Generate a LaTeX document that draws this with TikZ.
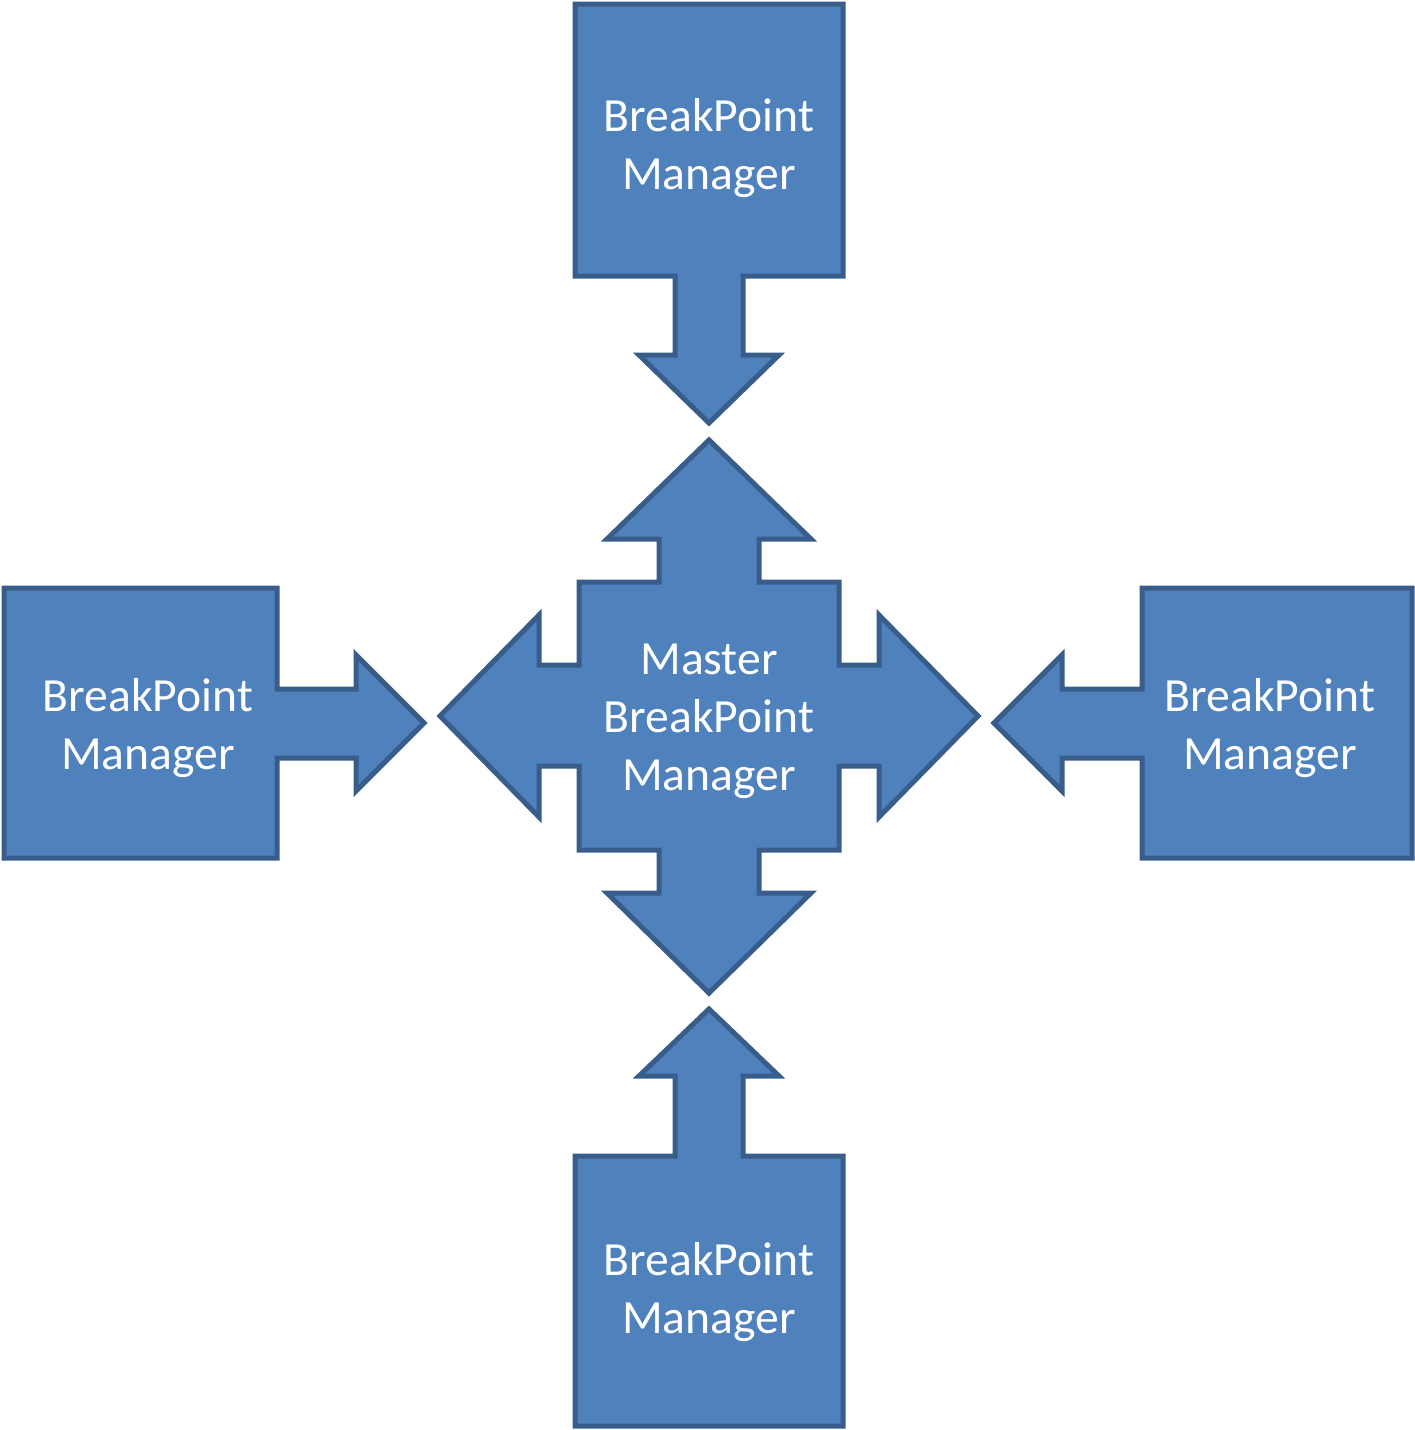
\documentclass[tikz,border=0pt]{standalone}
\usepackage{fontspec}
\setmainfont{Carlito}
\definecolor{shapefill}{HTML}{4F81BD}
\definecolor{shapeline}{HTML}{385D8A}
\begin{document}
\begin{tikzpicture}[x=1pt,y=-1pt,
  blockshape/.style={fill=shapefill,draw=shapeline,line width=5pt,line join=miter},
  label/.style={text=white,font=\fontsize{47.6}{58}\selectfont,align=center,inner sep=0pt}]
\useasboundingbox (0,0) rectangle (1415,1430);
% top callout
\path[blockshape] (575,4) -- (843,4) -- (843,276) -- (743,276) -- (743,355) -- (779,355) -- (709,423) -- (639,355) -- (675,355) -- (675,276) -- (575,276) -- cycle;
% bottom callout
\path[blockshape] (575,1426) -- (843,1426) -- (843,1156) -- (743,1156) -- (743,1076) -- (779,1076) -- (709,1009) -- (639,1076) -- (675,1076) -- (675,1156) -- (575,1156) -- cycle;
% left callout
\path[blockshape] (4,588) -- (277,588) -- (277,689) -- (356,689) -- (356,655) -- (424,723) -- (356,791) -- (356,758) -- (277,758) -- (277,858) -- (4,858) -- cycle;
% right callout
\path[blockshape] (1412,588) -- (1142,588) -- (1142,689) -- (1062,689) -- (1062,655) -- (994,723) -- (1062,791) -- (1062,758) -- (1142,758) -- (1142,858) -- (1412,858) -- cycle;
% center quad arrow
\path[blockshape] (709,440) -- (811,539) -- (759,539) -- (759,582) -- (839,582) -- (839,665) -- (879,665) -- (879,615) -- (978,716) -- (879,817) -- (879,766) -- (839,766) -- (839,850) -- (759,850) -- (759,893) -- (811,893) -- (709,993) -- (607,893) -- (659,893) -- (659,850) -- (579,850) -- (579,766) -- (539,766) -- (539,817) -- (440,716) -- (539,615) -- (539,665) -- (579,665) -- (579,582) -- (659,582) -- (659,539) -- (607,539) -- cycle;
% labels
\node[label] (top) at (709,148) {BreakPoint\\Manager};
\node[label] (bottom) at (709,1292) {BreakPoint\\Manager};
\node[label] (left) at (148,728) {BreakPoint\\Manager};
\node[label] (right) at (1270,728) {BreakPoint\\Manager};
\node[label] (master) at (709,721) {Master\\BreakPoint\\Manager};
\end{tikzpicture}
\end{document}
